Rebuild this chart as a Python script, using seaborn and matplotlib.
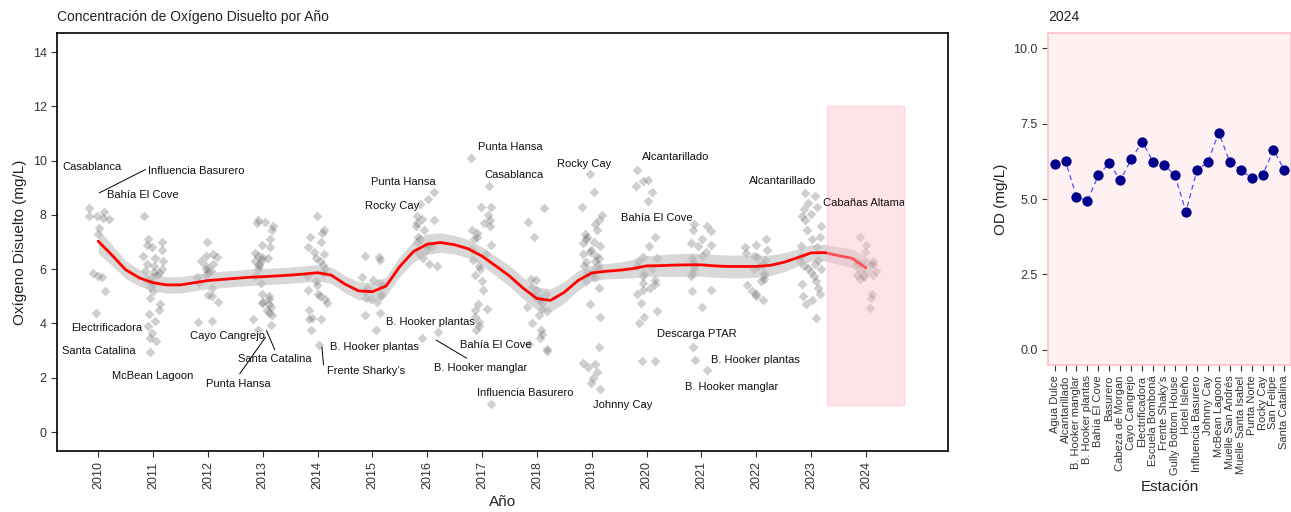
import numpy as np
import pandas as pd
import matplotlib
matplotlib.use('Agg')
import matplotlib.pyplot as plt
import seaborn as sns
from matplotlib.patches import Rectangle
from matplotlib.transforms import Bbox, TransformedBbox

# ---- datos ----
years = list(range(2010, 2025))

od_2010 = [8.25, 8.1, 7.95, 7.9, 7.85, 7.5, 7.3, 7.95, 5.85, 5.75, 5.7, 5.2, 4.4]
od_2011 = [7.95, 7.1, 7.0, 6.9, 6.8, 6.7, 6.5, 6.4, 6.3, 6.2, 6.1, 6.0, 5.95, 5.9, 5.85, 5.8,
           5.7, 5.6, 5.5, 5.35, 5.2, 4.95, 4.7, 4.5, 4.35, 4.1, 3.9, 3.65, 3.45, 3.35, 2.95]
od_2012 = [7.0, 6.55, 6.5, 6.45, 6.3, 6.2, 6.1, 6.0, 5.95, 5.9, 5.8, 5.7, 5.5, 5.3, 5.05, 5.0,
           4.8, 4.1, 4.05]
od_2013 = [7.8, 7.75, 7.7, 7.6, 7.45, 7.1, 6.9, 6.8, 6.6, 6.5, 6.45, 6.4, 6.35, 6.3, 6.2, 6.1,
           6.0, 5.75, 5.5, 5.1, 5.0, 4.9, 4.8, 4.75, 4.7, 4.6, 4.5, 4.4, 4.3, 4.15, 3.95, 3.75]
od_2014 = [7.95, 7.45, 7.35, 7.2, 7.0, 6.8, 6.65, 6.55, 6.4, 6.3, 6.15, 6.0, 5.85, 5.75, 5.55,
           5.4, 5.25, 5.1, 5.0, 4.9, 4.75, 4.5, 4.2, 4.15, 4.15, 3.75, 3.2]
od_2015 = [6.5, 6.45, 6.35, 5.7, 5.6, 5.5, 5.4, 5.3, 5.2, 5.1, 5.0, 4.95, 4.9, 4.8, 4.4, 4.3, 3.75]
od_2016 = [8.85, 8.6, 8.4, 7.95, 7.85, 7.8, 7.7, 7.6, 7.45, 7.2, 7.1, 7.0, 6.9, 6.8, 6.7, 6.6,
           6.4, 6.2, 6.1, 3.7, 3.45]
od_2017 = [10.1, 9.05, 8.3, 8.3, 8.0, 7.8, 7.7, 7.6, 7.45, 7.35, 7.2, 7.1, 6.9, 6.75, 6.55, 6.35,
           6.1, 6.0, 5.8, 5.55, 5.25, 4.7, 4.55, 4.5, 4.25, 4.05, 3.9, 3.75, 1.05]
od_2018 = [8.25, 7.75, 7.2, 5.65, 5.6, 5.35, 5.25, 5.1, 5.0, 4.95, 4.85, 4.75, 4.6, 4.55, 4.45,
           4.3, 4.0, 3.75, 3.6, 3.45, 3.25, 3.05, 3.0]
od_2019 = [9.5, 8.85, 8.3, 8.0, 7.8, 7.65, 7.45, 7.3, 7.2, 7.1, 7.0, 6.95, 6.85, 6.7, 6.65, 6.55,
           6.5, 6.4, 6.3, 6.25, 6.15, 6.1, 6.0, 5.95, 5.85, 5.75, 5.7, 5.55, 5.3, 4.7, 4.25, 3.15,
           2.55, 2.5, 2.4, 2.2, 2.0, 1.8, 1.6]
od_2020 = [9.65, 9.3, 9.25, 9.05, 8.85, 8.5, 7.2, 6.85, 6.45, 6.4, 6.3, 6.1, 6.0, 5.85, 5.75, 5.6,
           5.5, 5.45, 5.3, 5.25, 5.1, 4.75, 4.45, 4.25, 4.0, 2.6, 2.6]
od_2021 = [7.65, 7.6, 7.45, 7.4, 7.1, 6.95, 6.9, 6.85, 6.65, 6.5, 6.4, 6.3, 6.15, 6.0, 5.85, 5.75,
           5.25, 5.2, 4.6, 3.15, 2.65, 2.3]
od_2022 = [7.1, 6.9, 6.8, 6.7, 6.6, 6.5, 6.45, 6.35, 6.2, 6.1, 6.0, 5.85, 5.8, 5.65, 5.55, 5.4,
           5.2, 5.1, 5.0, 4.85]
od_2023 = [8.8, 8.7, 8.45, 8.3, 8.2, 8.05, 7.95, 7.8, 7.6, 7.45, 7.2, 7.1, 6.85, 6.8, 6.5, 6.35,
           6.3, 6.2, 6.1, 6.05, 6.0, 5.9, 5.75, 5.55, 5.45, 5.3, 5.1, 5.0, 4.85, 4.7, 4.2]

# 2024 por estacion (panel derecho, tambien usado en el panel izquierdo)
stations = ['Agua Dulce', 'Alcantarillado', 'B. Hooker manglar', 'B. Hooker plantas',
            'Bahía El Cove', 'Basurero', 'Cabeza de Morgan', 'Cayo Cangrejo',
            'Electrificadora', 'Escuela Bomboná', 'Frente Shaky’s', 'Gully Bottom House',
            'Hotel Isleño', 'Influencia Basurero', 'Johnny Cay', 'McBean Lagoon',
            'Muelle San Andrés', 'Muelle Santa Isabel', 'Punta Norte', 'Rocky Cay',
            'San Felipe', 'Santa Catalina']
od_2024 = [6.15, 6.26, 5.07, 4.94, 5.79, 6.19, 5.62, 6.31, 6.90, 6.23, 6.14, 5.78,
           4.58, 5.95, 6.22, 7.20, 6.23, 5.95, 5.71, 5.79, 6.63, 5.95]

# curva suavizada (loess) y su banda, leidas cada 0.25 anios
smooth_year = np.arange(2010, 2024.01, 0.25)
smooth_od = [7.03, 6.52, 5.98, 5.68, 5.50, 5.42, 5.42, 5.50, 5.58, 5.62, 5.66, 5.70, 5.72,
             5.75, 5.78, 5.82, 5.87, 5.78, 5.45, 5.20, 5.17, 5.38, 6.10, 6.65, 6.92, 6.98,
             6.90, 6.75, 6.48, 6.12, 5.75, 5.30, 4.92, 4.85, 5.15, 5.58, 5.86, 5.92, 5.96,
             6.02, 6.12, 6.13, 6.15, 6.16, 6.16, 6.12, 6.10, 6.10, 6.10, 6.14, 6.25, 6.42,
             6.60, 6.61, 6.50, 6.40, 6.05]
smooth_se = [0.45, 0.38, 0.33, 0.30, 0.30, 0.30, 0.30, 0.30, 0.30, 0.30, 0.30, 0.30, 0.30,
             0.30, 0.30, 0.30, 0.30, 0.30, 0.32, 0.33, 0.33, 0.34, 0.37, 0.38, 0.38, 0.36,
             0.34, 0.34, 0.34, 0.36, 0.38, 0.40, 0.42, 0.42, 0.40, 0.36, 0.30, 0.28, 0.30,
             0.34, 0.38, 0.40, 0.42, 0.42, 0.42, 0.42, 0.42, 0.42, 0.40, 0.38, 0.35, 0.32,
             0.30, 0.30, 0.32, 0.35, 0.40]

od_by_year = [od_2010, od_2011, od_2012, od_2013, od_2014, od_2015, od_2016, od_2017,
              od_2018, od_2019, od_2020, od_2021, od_2022, od_2023, od_2024]

df = pd.DataFrame({
    'Año': np.concatenate([[y] * len(v) for y, v in zip(years, od_by_year)]),
    'OD': np.concatenate(od_by_year),
})
df24 = pd.DataFrame({'Estación': stations, 'OD': od_2024})

# ---- estilo ----
sns.set_theme(style='white')
plt.rcParams['font.family'] = ['Liberation Sans', 'DejaVu Sans']

fig = plt.figure(figsize=(12.91, 5.12), dpi=100)
ax1 = fig.add_axes([0.0442, 0.1191, 0.6902, 0.8164])
ax2 = fig.add_axes([0.8118, 0.2871, 0.1882, 0.6484])

# ---- panel izquierdo ----
np.random.seed(7)
sns.stripplot(data=df, x='Año', y='OD', native_scale=True, orient='x', jitter=0.2,
              marker='D', size=5, color='#555555', alpha=0.28, linewidth=0, ax=ax1, zorder=2)

lo = np.array(smooth_od) - np.array(smooth_se)
hi = np.array(smooth_od) + np.array(smooth_se)
ax1.fill_between(smooth_year, lo, hi, color='#BEBEBE', alpha=0.6, lw=0, zorder=3)
sns.lineplot(x=smooth_year, y=smooth_od, color='red', lw=2, ax=ax1, zorder=4)

hl_x, hl_y = (2023.3, 2024.7), (1, 12)
highlight = Rectangle((hl_x[0], hl_y[0]), hl_x[1] - hl_x[0], hl_y[1] - hl_y[0],
                      facecolor='#FFC0CB', alpha=0.43, edgecolor='#FFB0BC', lw=1, zorder=5)
ax1.add_patch(highlight)

labels = [
    ('Casablanca', 2009.89, 9.77), ('Influencia Basurero', 2011.78, 9.61),
    ('Bahía El Cove', 2010.82, 8.75), ('Electrificadora', 2010.16, 3.83),
    ('Santa Catalina', 2010.02, 2.99), ('McBean Lagoon', 2010.99, 2.08),
    ('Cayo Cangrejo', 2012.35, 3.52), ('Santa Catalina', 2013.22, 2.68),
    ('Punta Hansa', 2012.55, 1.77), ('B. Hooker plantas', 2015.04, 3.15),
    ('Frente Sharky’s', 2014.88, 2.26), ('Punta Hansa', 2015.56, 9.22),
    ('Rocky Cay', 2015.36, 8.31), ('B. Hooker plantas', 2016.06, 4.07),
    ('Bahía El Cove', 2017.25, 3.19), ('B. Hooker manglar', 2016.98, 2.35),
    ('Influencia Basurero', 2017.79, 1.45), ('Punta Hansa', 2017.52, 10.49),
    ('Casablanca', 2017.58, 9.46), ('Rocky Cay', 2018.86, 9.89),
    ('Johnny Cay', 2019.56, 1.00), ('Alcantarillado', 2020.54, 10.12),
    ('Bahía El Cove', 2020.19, 7.88), ('Descarga PTAR', 2020.92, 3.60),
    ('B. Hooker plantas', 2021.99, 2.66), ('B. Hooker manglar', 2021.55, 1.67),
    ('Alcantarillado', 2022.49, 9.26),
]
for name, x, y in labels:
    ax1.text(x, y, name, ha='center', va='center', fontsize=8, color='#111111', zorder=6)

# etiqueta recortada en el borde derecho del recuadro rosado
t = ax1.text(2024.0, 8.44, 'Cabañas Altamar', ha='center', va='center', fontsize=8,
             color='#111111', zorder=6, clip_on=True)
t.set_clip_box(TransformedBbox(Bbox([[hl_x[0] - 1, hl_y[0]], [hl_x[1], hl_y[1]]]),
                               ax1.transData))

segments = [
    ((2010.02, 8.81), (2010.86, 9.67)),
    ((2013.07, 3.74), (2013.22, 3.03)),
    ((2013.05, 3.49), (2012.58, 2.14)),
    ((2014.08, 3.13), (2014.11, 2.47)),
    ((2016.16, 3.39), (2016.72, 2.72)),
]
for (x0, y0), (x1, y1) in segments:
    ax1.plot([x0, x1], [y0, y1], color='black', lw=0.7, zorder=6)

ax1.set_xlim(2009.25, 2025.5)
ax1.set_ylim(-0.7, 14.7)
ax1.set_xticks(years)
ax1.set_xticklabels([str(y) for y in years], rotation=90)
ax1.set_yticks(range(0, 15, 2))
ax1.set_xlabel('Año', fontsize=11, color='#222222')
ax1.set_ylabel('Oxígeno Disuelto (mg/L)', fontsize=11, color='#222222')
ax1.set_title('Concentración de Oxígeno Disuelto por Año', loc='left', fontsize=10,
              color='#222222', pad=9)
for s in ax1.spines.values():
    s.set_color('black')
    s.set_linewidth(1.2)
ax1.tick_params(axis='both', which='major', bottom=True, left=True, length=4, width=0.8,
                color='#333333', labelsize=9, labelcolor='#333333')

# ---- panel derecho (2024) ----
ax2.set_facecolor('#FFF0F2')
sns.lineplot(data=df24, x='Estación', y='OD', sort=False, color='#5050FF', lw=0.9,
             linestyle=(0, (4, 3)), ax=ax2, zorder=2)
sns.scatterplot(data=df24, x='Estación', y='OD', color='#00008B', s=55, linewidth=0,
                ax=ax2, zorder=3)
ax2.set_xlim(-0.6, len(stations) - 0.4)
ax2.set_ylim(-0.5, 10.5)
ax2.set_yticks([0, 2.5, 5, 7.5, 10])
ax2.set_yticklabels(['0.0', '2.5', '5.0', '7.5', '10.0'])
ax2.set_xticks(range(len(stations)))
ax2.set_xticklabels(stations, rotation=90, fontsize=8)
ax2.set_xlabel('Estación', fontsize=11, color='#222222')
ax2.set_ylabel('OD (mg/L)', fontsize=11, color='#222222')
ax2.set_title('2024', loc='left', fontsize=10, color='#222222', pad=9)
for s in ax2.spines.values():
    s.set_color('#FFC0CB')
    s.set_linewidth(1.2)
ax2.tick_params(axis='both', which='major', bottom=True, left=True, length=4, width=0.8,
                color='#333333', labelsize=9, labelcolor='#333333')
ax2.tick_params(axis='x', labelsize=8)

fig.savefig('out.png', dpi=100)
